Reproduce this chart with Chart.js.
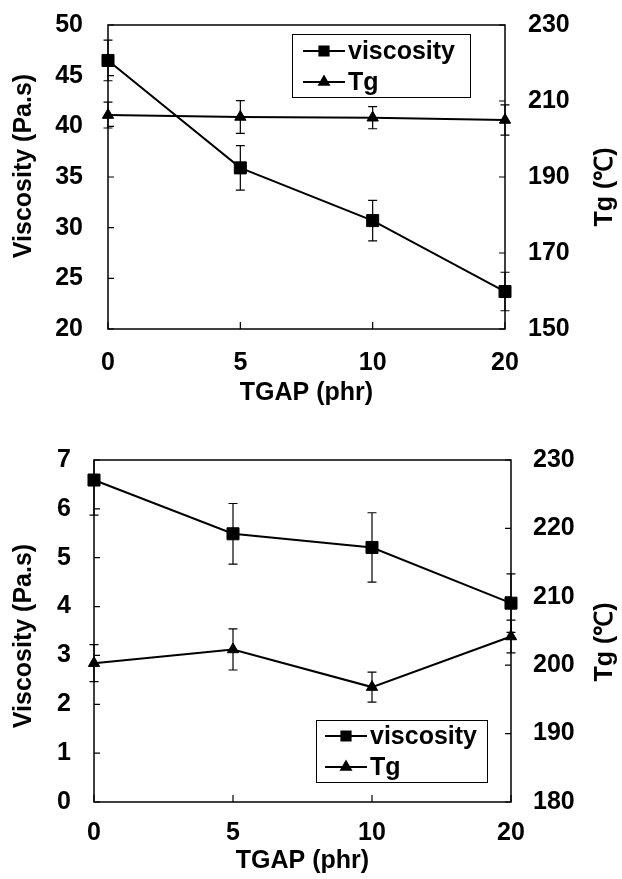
<!DOCTYPE html>
<html>
<head>
<meta charset="utf-8">
<script src="https://cdn.jsdelivr.net/npm/chart.js@4.4.1/dist/chart.umd.min.js"></script>
<style>
html, body { margin: 0; padding: 0; background: #fff; }
#wrap { position: relative; width: 622px; height: 879px; }
canvas { position: absolute; left: 0; }
</style>
</head>
<body>
<div id="wrap">
  <canvas id="chartTop" width="622" height="440" style="top:0"></canvas>
  <canvas id="chartBottom" width="622" height="439" style="top:440px"></canvas>
</div>
<script>
// --- data ---
const tgapLabels = ['0', '5', '10', '20'];

// upper panel
const viscosityTop = [46.5, 35.9, 30.7, 23.7];
const viscosityTopErr = [2.0, 2.2, 2.0, 1.9];
const tgTop = [206.3, 205.8, 205.6, 205.0];
const tgTopErr = [3.4, 4.3, 2.9, 4.0];

// lower panel
const viscosityBottom = [6.59, 5.49, 5.21, 4.07];
const viscosityBottomErr = [0.72, 0.62, 0.71, 0.6];
const tgBottom = [200.3, 202.3, 196.8, 204.2];
const tgBottomErr = [2.7, 3.0, 2.2, 2.4];

const FONT_FAMILY = '"Liberation Sans", Arial, sans-serif';
const FONT_SIZE = 25;
const boldFont = { family: FONT_FAMILY, size: FONT_SIZE, weight: 'bold' };
const fontCss = 'bold ' + FONT_SIZE + 'px ' + FONT_FAMILY;

// error bars, frame, inward ticks, titles and the boxed legend
const paperFrame = {
    id: 'paperFrame',
    beforeDatasetsDraw(chart, args, opts) {
        const { ctx, chartArea: a, scales } = chart;
        ctx.save();
        ctx.strokeStyle = '#000';

        // plot frame
        ctx.lineWidth = 1.5;
        ctx.strokeRect(a.left, a.top, a.right - a.left, a.bottom - a.top);

        // inward ticks
        ctx.lineWidth = 1.2;
        ctx.beginPath();
        scales.y.ticks.forEach((t, i) => {
            const p = scales.y.getPixelForTick(i);
            ctx.moveTo(a.left, p); ctx.lineTo(a.left + 6, p);
        });
        scales.y2.ticks.forEach((t, i) => {
            const p = scales.y2.getPixelForTick(i);
            ctx.moveTo(a.right, p); ctx.lineTo(a.right - 6, p);
        });
        scales.x.ticks.forEach((t, i) => {
            const p = scales.x.getPixelForTick(i);
            ctx.moveTo(p, a.bottom); ctx.lineTo(p, a.bottom - 7);
        });
        ctx.stroke();

        // error bars
        ctx.beginPath();
        ctx.rect(a.left - 10, a.top, a.right - a.left + 20, a.bottom - a.top);
        ctx.clip();
        ctx.lineWidth = 1.2;
        chart.data.datasets.forEach(ds => {
            const ys = scales[ds.yAxisID];
            ds.data.forEach((v, j) => {
                const x = scales.x.getPixelForValue(j);
                const hi = ys.getPixelForValue(v + ds.errors[j]);
                const lo = ys.getPixelForValue(v - ds.errors[j]);
                ctx.beginPath();
                ctx.moveTo(x, hi); ctx.lineTo(x, lo);
                ctx.moveTo(x - 4.5, hi); ctx.lineTo(x + 4.5, hi);
                ctx.moveTo(x - 4.5, lo); ctx.lineTo(x + 4.5, lo);
                ctx.stroke();
            });
        });
        ctx.restore();
    },
    afterDraw(chart, args, opts) {
        const { ctx } = chart;
        ctx.save();
        ctx.fillStyle = '#000';
        ctx.font = fontCss;
        ctx.textAlign = 'center';
        ctx.textBaseline = 'middle';

        // rotated axis titles, both reading bottom-to-top
        [opts.leftTitle, opts.rightTitle].forEach(t => {
            ctx.save();
            ctx.translate(t.x, t.y);
            ctx.rotate(-Math.PI / 2);
            ctx.fillText(t.text, 0, 0);
            ctx.restore();
        });

        // legend box
        const L = opts.legend;
        ctx.fillStyle = '#fff';
        ctx.fillRect(L.left, L.top, L.width, L.height);
        ctx.strokeStyle = '#000';
        ctx.lineWidth = 1;
        ctx.strokeRect(L.left + 0.5, L.top + 0.5, L.width, L.height);
        ctx.textAlign = 'left';
        chart.data.datasets.forEach((ds, i) => {
            const y = L.top + L.firstRow + i * L.rowGap;
            const x0 = L.left + L.sampleStart;
            const x1 = x0 + L.sampleLength;
            ctx.strokeStyle = '#000';
            ctx.lineWidth = 2;
            ctx.beginPath();
            ctx.moveTo(x0, y); ctx.lineTo(x1, y);
            ctx.stroke();
            ctx.fillStyle = '#000';
            Chart.helpers.drawPoint(ctx, {
                pointStyle: ds.pointStyle,
                radius: ds.pointStyle === 'rect' ? 6.5 : 5.5,
                rotation: 0,
                borderWidth: 1
            }, (x0 + x1) / 2, y);
            ctx.fillStyle = '#000';
            ctx.fillText(ds.label, x1 + 3, y + 1);
        });
        ctx.restore();
    }
};

function makeDatasets(visc, viscErr, tg, tgErr) {
    return [
        {
            label: 'viscosity',
            data: visc,
            errors: viscErr,
            yAxisID: 'y',
            borderColor: '#000',
            backgroundColor: '#000',
            borderWidth: 2,
            pointStyle: 'rect',
            pointRadius: 8.5,
            pointBorderWidth: 1,
            tension: 0
        },
        {
            label: 'Tg',
            data: tg,
            errors: tgErr,
            yAxisID: 'y2',
            borderColor: '#000',
            backgroundColor: '#000',
            borderWidth: 2,
            pointStyle: 'triangle',
            pointRadius: 6.5,
            pointBorderWidth: 1,
            tension: 0
        }
    ];
}

// fixed axis width, and no extra room reserved for the end labels
function fixWidth(w) {
    return s => {
        s.width = w;
        s.paddingTop = 0;
        s.paddingBottom = 0;
    };
}

function makeChart(canvasId, p) {
    const ctx = document.getElementById(canvasId).getContext('2d');
    const h = ctx.canvas.height;
    return new Chart(ctx, {
        type: 'line',
        data: { labels: tgapLabels, datasets: p.datasets },
        plugins: [paperFrame],
        options: {
            responsive: false,
            animation: false,
            devicePixelRatio: 1,
            layout: { padding: { top: p.plotTop, left: 0, right: 0, bottom: 0 } },
            scales: {
                x: {
                    type: 'category',
                    offset: false,
                    grid: { display: false, drawTicks: false },
                    border: { display: false },
                    ticks: { color: '#000', font: boldFont, padding: p.xTickPad, maxRotation: 0 },
                    title: { display: true, text: 'TGAP (phr)', color: '#000', font: boldFont,
                             padding: { top: 0, bottom: p.xTitlePad } },
                    afterFit: s => { s.height = h - p.plotBottom; }
                },
                y: {
                    position: 'left',
                    min: p.yMin, max: p.yMax,
                    grid: { display: false, drawTicks: false },
                    border: { display: false },
                    ticks: { stepSize: p.yStep, color: '#000', font: boldFont, padding: p.yTickPad },
                    afterFit: fixWidth(p.plotLeft)
                },
                y2: {
                    position: 'right',
                    min: p.y2Min, max: p.y2Max,
                    grid: { display: false, drawTicks: false },
                    border: { display: false },
                    ticks: { stepSize: p.y2Step, color: '#000', font: boldFont, padding: p.y2TickPad },
                    afterFit: fixWidth(622 - p.plotRight)
                }
            },
            plugins: {
                legend: { display: false },
                tooltip: { enabled: false },
                paperFrame: {
                    leftTitle: { text: 'Viscosity (Pa.s)', x: 24, y: p.leftTitleY },
                    rightTitle: { text: 'Tg (\u2103)', x: 605, y: p.rightTitleY },
                    legend: p.legend
                }
            }
        }
    });
}

makeChart('chartTop', {
    datasets: makeDatasets(viscosityTop, viscosityTopErr, tgTop, tgTopErr),
    plotTop: 25, plotBottom: 329, plotLeft: 108, plotRight: 505,
    yMin: 20, yMax: 50, yStep: 5,
    y2Min: 150, y2Max: 230, y2Step: 20,
    xTickPad: 19, xTitlePad: 32, yTickPad: 25, y2TickPad: 23,
    leftTitleY: 166, rightTitleY: 187,
    legend: { left: 292, top: 34, width: 178, height: 63, firstRow: 17, rowGap: 31,
              sampleStart: 11, sampleLength: 42 }
});

makeChart('chartBottom', {
    datasets: makeDatasets(viscosityBottom, viscosityBottomErr, tgBottom, tgBottomErr),
    plotTop: 20, plotBottom: 362, plotLeft: 94, plotRight: 511,
    yMin: 0, yMax: 7, yStep: 1,
    y2Min: 180, y2Max: 230, y2Step: 10,
    xTickPad: 16, xTitlePad: 3, yTickPad: 23, y2TickPad: 22,
    leftTitleY: 196, rightTitleY: 202,
    legend: { left: 316, top: 280, width: 171, height: 62, firstRow: 16, rowGap: 31,
              sampleStart: 9, sampleLength: 42 }
});
</script>
</body>
</html>
